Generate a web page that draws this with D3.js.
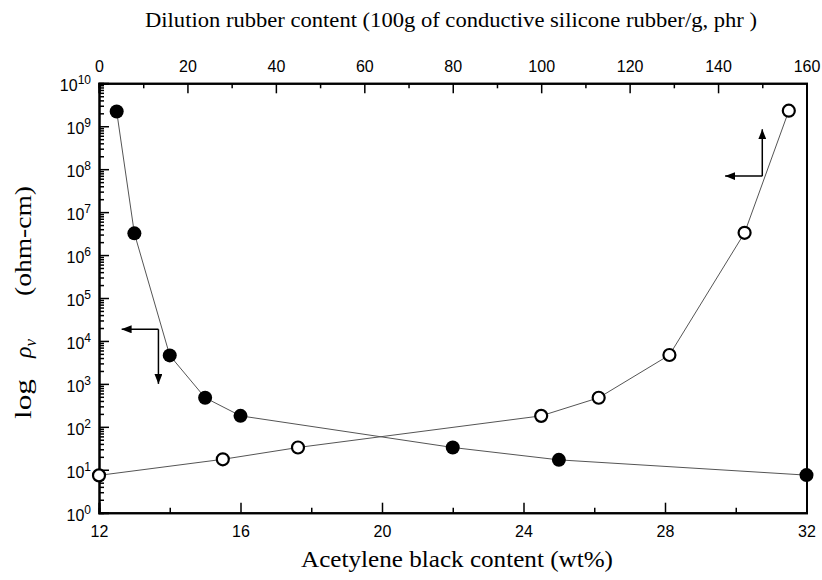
<!DOCTYPE html>
<html>
<head>
<meta charset="utf-8">
<script src="https://cdn.jsdelivr.net/npm/d3@7"></script>
<style>
  html, body { margin: 0; padding: 0; background: #fff; }
  svg { display: block; }
</style>
</head>
<body>
<script>
// Volume resistivity vs. acetylene black content (filled, bottom axis)
// and vs. dilution rubber content (open, top axis)
const wtContent = [12.5, 13, 14, 15, 16, 22, 25, 32];
const rhoFilled = [2.2e9, 3.2e6, 4.6e3, 475, 180, 33, 17, 7.5];
const phrContent = [0, 28, 45, 100, 113, 129, 146, 156];
const rhoOpen = [7.4, 17.5, 33, 180, 475, 4.7e3, 3.3e6, 2.3e9];

const bottomTicks = [12, 16, 20, 24, 28, 32];
const bottomMinor = [14, 18, 22, 26, 30];
const topTicks = [0, 20, 40, 60, 80, 100, 120, 140, 160];
const topMinor = [10, 30, 50, 70, 90, 110, 130, 150];
const decadeExponents = [0, 1, 2, 3, 4, 5, 6, 7, 8, 9, 10];

const titleTop = "Dilution rubber content (100g of conductive silicone rubber/g, phr )";
const titleBottom = "Acetylene black content (wt%)";

const W = 822, H = 580;
const plotL = 99, plotR = 806.5, plotT = 83.3, plotB = 512.7;

const x = d3.scaleLinear().domain([12, 32]).range([plotL, plotR]);
const xTop = d3.scaleLinear().domain([0, 160]).range([plotL, plotR]);
const y = d3.scaleLog().domain([1, 1e10]).range([plotB, plotT]);

const svg = d3.select("body").append("svg").attr("width", W).attr("height", H);

const defs = svg.append("defs");
defs.append("marker")
  .attr("id", "head")
  .attr("markerUnits", "userSpaceOnUse")
  .attr("viewBox", "0 0 10 8")
  .attr("refX", 10).attr("refY", 4)
  .attr("markerWidth", 10).attr("markerHeight", 8)
  .attr("orient", "auto")
  .append("path").attr("d", "M0,0 L10,4 L0,8 Z").attr("fill", "#000");

const tickFont = "'Liberation Sans', Arial, sans-serif";
const serif = "'Liberation Serif', 'Times New Roman', serif";

// bottom axis
svg.append("g").attr("transform", `translate(0,${plotB})`)
  .call(d3.axisBottom(x).tickValues(bottomTicks).tickSize(-10).tickPadding(13).tickFormat(d3.format("d")));
svg.append("g").attr("transform", `translate(0,${plotB})`)
  .call(d3.axisBottom(x).tickValues(bottomMinor).tickSize(-5).tickFormat(""));

// top axis
svg.append("g").attr("transform", `translate(0,${plotT})`)
  .call(d3.axisTop(xTop).tickValues(topTicks).tickSize(-10).tickPadding(11).tickFormat(d3.format("d")));
svg.append("g").attr("transform", `translate(0,${plotT})`)
  .call(d3.axisTop(xTop).tickValues(topMinor).tickSize(-5).tickFormat(""));

// left axis: decades and minor ticks
const majors = decadeExponents.map(e => Math.pow(10, e));
const minors = [];
decadeExponents.slice(0, -1).forEach(e => { for (let k = 2; k <= 9; k++) minors.push(k * Math.pow(10, e)); });
svg.append("g").attr("transform", `translate(${plotL},0)`)
  .call(d3.axisLeft(y).tickValues(majors).tickSize(-10).tickFormat(""));
svg.append("g").attr("transform", `translate(${plotL},0)`)
  .call(d3.axisLeft(y).tickValues(minors).tickSize(-5).tickFormat(""));

// right frame line
svg.append("g").attr("transform", `translate(${plotR},0)`)
  .call(d3.axisRight(y).tickValues([]).tickSize(0));

svg.selectAll(".domain").attr("stroke", "#000").attr("stroke-width", 2);
svg.selectAll(".tick line").attr("stroke", "#000").attr("stroke-width", 1.5);
svg.selectAll(".tick text").attr("font-family", tickFont).attr("font-size", 16).attr("fill", "#000");

// decade labels
const yl = svg.append("g").selectAll("text").data(decadeExponents).join("text")
  .attr("x", 91).attr("y", d => y(Math.pow(10, d)) + 8)
  .attr("text-anchor", "end")
  .attr("font-family", tickFont).attr("font-size", 16).attr("fill", "#000");
yl.append("tspan").text("10");
yl.append("tspan").attr("dy", -7).attr("font-size", 12).text(d => d);

// connecting lines
const lineB = d3.line().x(d => x(d[0])).y(d => y(d[1]));
const lineT = d3.line().x(d => xTop(d[0])).y(d => y(d[1]));
const filledPts = wtContent.map((v, i) => [v, rhoFilled[i]]);
const openPts = phrContent.map((v, i) => [v, rhoOpen[i]]);

svg.append("path").datum(filledPts).attr("d", lineB)
  .attr("fill", "none").attr("stroke", "#555").attr("stroke-width", 1);
svg.append("path").datum(openPts).attr("d", lineT)
  .attr("fill", "none").attr("stroke", "#555").attr("stroke-width", 1);

svg.append("g").selectAll("circle").data(filledPts).join("circle")
  .attr("cx", d => x(d[0])).attr("cy", d => y(d[1])).attr("r", 7)
  .attr("fill", "#000");
svg.append("g").selectAll("circle").data(openPts).join("circle")
  .attr("cx", d => xTop(d[0])).attr("cy", d => y(d[1])).attr("r", 6)
  .attr("fill", "#fff").attr("stroke", "#000").attr("stroke-width", 2.2);

// axis-pointer arrows
function elbow(cx, cy, lx, vy) {
  const g = svg.append("g").attr("stroke", "#000").attr("stroke-width", 1.5).attr("fill", "none");
  g.append("line").attr("x1", x(cx)).attr("y1", y(cy)).attr("x2", x(lx)).attr("y2", y(cy))
    .attr("marker-end", "url(#head)");
  g.append("line").attr("x1", x(cx)).attr("y1", y(cy)).attr("x2", x(cx)).attr("y2", y(vy))
    .attr("marker-end", "url(#head)");
}
elbow(13.68, 1.87e4, 12.64, 1.0e3);
elbow(30.75, 6.9e7, 29.70, 8.5e8);

// titles
svg.append("text").attr("x", 451).attr("y", 27)
  .attr("text-anchor", "middle").attr("font-family", serif).attr("font-size", 22)
  .attr("textLength", 612).attr("lengthAdjust", "spacingAndGlyphs")
  .text(titleTop);
svg.append("text").attr("x", 457).attr("y", 567)
  .attr("text-anchor", "middle").attr("font-family", serif).attr("font-size", 23)
  .attr("textLength", 312).attr("lengthAdjust", "spacingAndGlyphs")
  .text(titleBottom);

// rotated y title, set in three runs along the axis
const yTitle = svg.append("g").attr("transform", "translate(31,0) rotate(-90)")
  .attr("font-family", serif).attr("font-size", 24).attr("fill", "#000");
yTitle.append("text").attr("x", -419).attr("y", 0)
  .attr("textLength", 40).attr("lengthAdjust", "spacingAndGlyphs").text("log");
const rho = yTitle.append("text").attr("x", -358).attr("y", 0).attr("font-style", "italic");
rho.append("tspan").text("ρ");
rho.append("tspan").attr("font-size", 17).attr("dy", 5).text("v");
yTitle.append("text").attr("x", -296).attr("y", 0)
  .attr("textLength", 110).attr("lengthAdjust", "spacingAndGlyphs").text("(ohm-cm)");
</script>
</body>
</html>
